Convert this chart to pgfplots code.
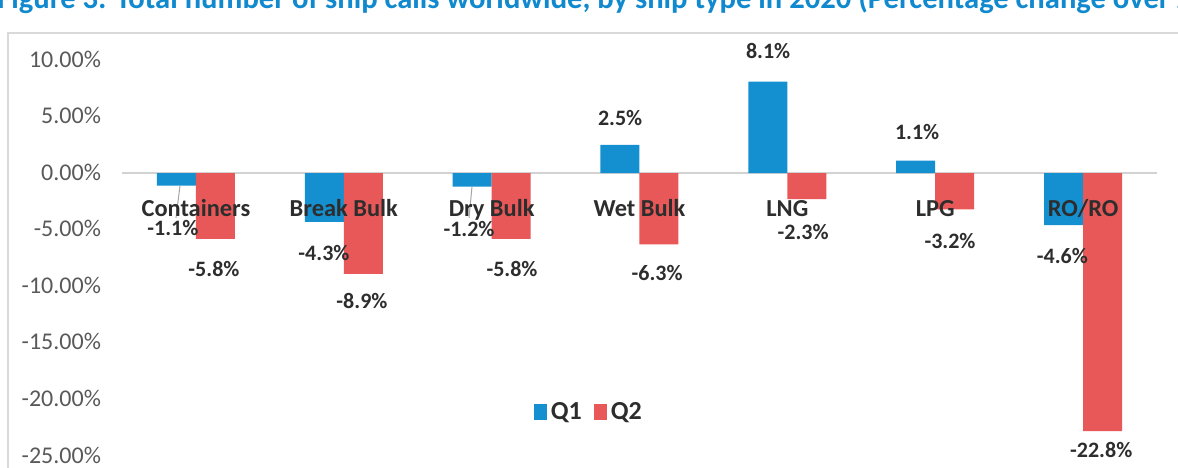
\documentclass[border=0pt]{standalone}
\usepackage{pgfplots}
\pgfplotsset{compat=1.18}
\usepackage{fontspec}
\setmainfont{Carlito}
\definecolor{qone}{RGB}{20,143,207}
\definecolor{qtwo}{RGB}{232,88,88}
\definecolor{titleblue}{RGB}{16,137,206}
\definecolor{ticktext}{RGB}{89,89,89}
\definecolor{labeltext}{RGB}{45,45,45}

\begin{document}
\begin{tikzpicture}[lab/.style={font=\fontsize{11}{13}\selectfont\bfseries, text=labeltext, inner sep=0pt}]
% title, cut at the top edge as in the source
\node[anchor=base west, inner sep=0pt, font=\fontsize{15.3}{18}\selectfont\bfseries, text=titleblue]
  at (-1.5pt,-4pt) {Figure 3: Total number of ship calls worldwide, by ship type in 2020 (Percentage change over 2019)};
% chart area frame
\draw[gray!30, line width=1pt] (4pt,-240pt) -- (4pt,-16.5pt) -- (600pt,-16.5pt);
\begin{axis}[
  at={(61pt,-228pt)}, anchor=south west,
  scale only axis, width=517.5pt, height=198pt,
  ybar=0pt, bar width=19.5pt,
  xmin=-0.5, xmax=6.5, ymin=-25, ymax=10,
  clip=false, axis on top,
  axis line style={draw=none}, major tick length=0pt,
  xtick={0,...,6},
  xticklabels={Containers,Break Bulk,Dry Bulk,Wet Bulk,LNG,LPG,RO/RO},
  xticklabel style={anchor=base, yshift=120pt, font=\fontsize{12.2}{14}\selectfont\bfseries, text=labeltext},
  ytick={-25,-20,...,10},
  /pgf/number format/assume math mode=true,
  yticklabel={\pgfmathprintnumber[fixed,fixed zerofill,precision=2]{\tick}\%},
  yticklabel style={font=\fontsize{12}{14}\selectfont, text=ticktext, anchor=east, xshift=-7pt, yshift=0.5pt},
  legend style={at={(0.452,0.11)}, anchor=center, draw=none, fill=none,
    legend columns=2, font=\fontsize{13}{15}\selectfont\bfseries, text=labeltext,
    /tikz/every even column/.append style={column sep=4pt}},
  legend image code/.code={\fill[#1] (0pt,-4pt) rectangle (6.5pt,4pt);},
]
% zero line, behind the bars
\draw[gray!35, line width=0.8pt] (axis cs:-0.5,0) -- (axis cs:6.5,0);

\addplot[fill=qone, draw=none] coordinates {
  (0,-1.1) (1,-4.3) (2,-1.2) (3,2.5) (4,8.1) (5,1.1) (6,-4.6)};
\addplot[fill=qtwo, draw=none] coordinates {
  (0,-5.8) (1,-8.9) (2,-5.8) (3,-6.3) (4,-2.3) (5,-3.2) (6,-22.8)};
\legend{Q1,Q2}

% leader lines
\draw[gray!70, line width=0.5pt] (axis cs:-0.108,-1.14) -- (axis cs:-0.135,-3.95);
\draw[gray!70, line width=0.5pt] (axis cs:1.867,-1.23) -- (axis cs:1.847,-3.95);

% Q1 labels
\node[lab] at (axis cs:-0.156,-4.82) {-1.1\%};
\node[lab] at (axis cs:0.866,-7.1) {-4.3\%};
\node[lab] at (axis cs:1.847,-4.9) {-1.2\%};
\node[lab] at (axis cs:2.869,4.9) {2.5\%};
\node[lab] at (axis cs:3.87,10.8) {8.1\%};
\node[lab] at (axis cs:4.878,3.68) {1.1\%};
\node[lab] at (axis cs:5.86,-7.28) {-4.6\%};
% Q2 labels
\node[lab] at (axis cs:0.122,-8.5) {-5.8\%};
\node[lab] at (axis cs:1.123,-11.3) {-8.9\%};
\node[lab] at (axis cs:2.138,-8.5) {-5.8\%};
\node[lab] at (axis cs:3.119,-8.86) {-6.3\%};
\node[lab] at (axis cs:4.107,-5.18) {-2.3\%};
\node[lab] at (axis cs:5.10,-5.96) {-3.2\%};
\node[lab] at (axis cs:6.123,-24.5) {-22.8\%};
\end{axis}
\pgfresetboundingbox
\useasboundingbox (0,0) rectangle (589pt,-233.5pt);
\end{tikzpicture}
\end{document}
